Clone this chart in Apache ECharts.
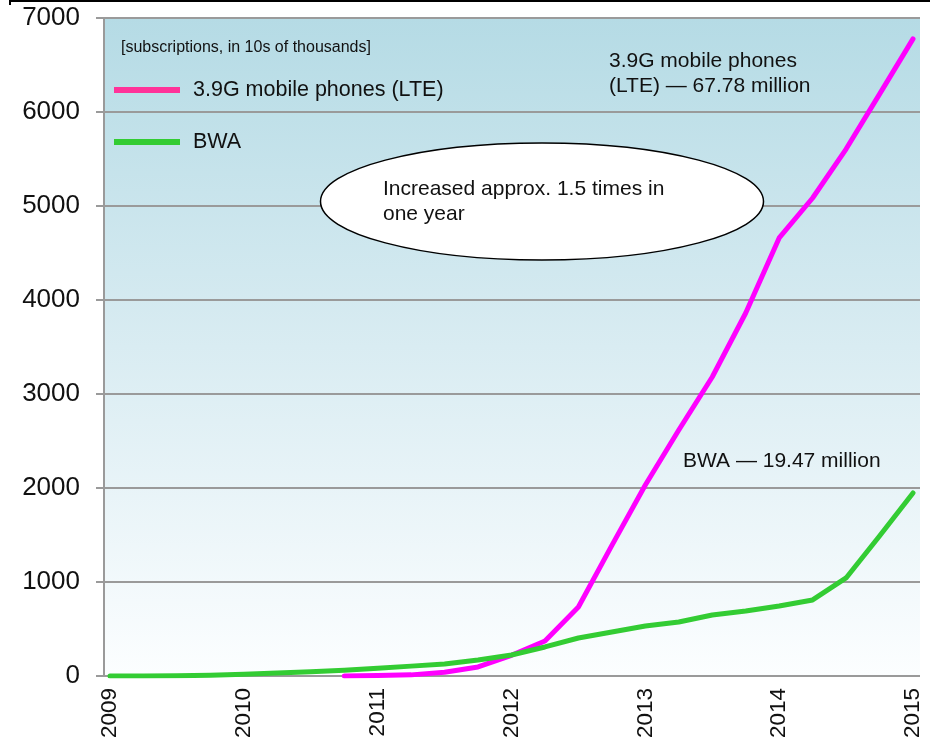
<!DOCTYPE html>
<html>
<head>
<meta charset="utf-8">
<title>3.9G (LTE) and BWA subscriptions</title>
<script src="https://cdn.jsdelivr.net/npm/echarts@6/dist/echarts.min.js"></script>
<style>
  html, body { margin: 0; padding: 0; background: #fff; }
  #chart { width: 930px; height: 737px; }
</style>
</head>
<body>
<div id="chart"></div>
<script>
// Quarterly points, one label per year
const quarters = [
  '2009 Q1', '2009 Q2', '2009 Q3', '2009 Q4',
  '2010 Q1', '2010 Q2', '2010 Q3', '2010 Q4',
  '2011 Q1', '2011 Q2', '2011 Q3', '2011 Q4',
  '2012 Q1', '2012 Q2', '2012 Q3', '2012 Q4',
  '2013 Q1', '2013 Q2', '2013 Q3', '2013 Q4',
  '2014 Q1', '2014 Q2', '2014 Q3', '2014 Q4',
  '2015 Q1'
];
const yearLabels = ['2009', '2010', '2011', '2012', '2013', '2014', '2015'];

// Subscriptions, in 10s of thousands
const lteValues = [
  null, null, null, null, null, null, null, 0,
  4, 12, 40, 96, 220, 372, 734, 1390,
  2032, 2617, 3181, 3862, 4660, 5085, 5606, 6190,
  6778
];
const bwaValues = [
  0, 0, 2, 8, 18, 32, 45, 60,
  82, 105, 128, 170, 223, 309, 404, 468,
  532, 574, 649, 691, 745, 809, 1043, 1490,
  1947
];
const yTicks = [0, 1000, 2000, 3000, 4000, 5000, 6000, 7000];

const lteName = '3.9G mobile phones (LTE)';
const bwaName = 'BWA';
const FONT = '"Liberation Sans", Arial, Helvetica, sans-serif';

const lteLast = lteValues[lteValues.length - 1];
const bwaLast = bwaValues[bwaValues.length - 1];
const millions = v => (v / 100).toFixed(2) + ' million';

const chart = echarts.init(document.getElementById('chart'), null, { renderer: 'canvas' });

const gridTop = 18, gridBottom = 61;

chart.setOption({
  animation: false,
  backgroundColor: '#ffffff',
  textStyle: { fontFamily: FONT },
  title: {
    text: '[subscriptions, in 10s of thousands]',
    left: 121, top: 40, padding: 0,
    textStyle: { fontSize: 16, fontWeight: 'normal', color: '#111', fontFamily: FONT }
  },
  legend: {
    orient: 'vertical',
    left: 114, top: 79, padding: 0,
    itemWidth: 66, itemHeight: 6, itemGap: 30,
    icon: 'rect',
    selectedMode: false,
    textStyle: { fontSize: 21.5, color: '#111', fontFamily: FONT, lineHeight: 21, padding: [0, 0, 0, 8] },
    data: [
      { name: lteName, itemStyle: { color: '#ff3399' } },
      { name: bwaName, itemStyle: { color: '#33cc33' } }
    ]
  },
  grid: [
    {
      // frame: shaded background, value scale and gridlines
      left: 104, right: 10, top: gridTop, bottom: gridBottom,
      outerBoundsMode: 'none', containLabel: false,
      show: true, borderWidth: 0,
      backgroundColor: new echarts.graphic.LinearGradient(0, 0, 0, 1, [
        { offset: 0, color: '#b5dbe5' },
        { offset: 0.5, color: '#d9ecf2' },
        { offset: 1, color: '#fcfeff' }
      ])
    },
    {
      // plotting area for the quarterly series
      left: 110, right: 17, top: gridTop, bottom: gridBottom,
      outerBoundsMode: 'none', containLabel: false
    }
  ],
  xAxis: [
    { type: 'value', gridIndex: 0, show: false, min: 0, max: 1 },
    {
      type: 'category', gridIndex: 1, data: quarters, boundaryGap: false,
      axisLine: { show: false }, axisTick: { show: false }, splitLine: { show: false },
      axisLabel: {
        interval: 3, rotate: 90, margin: 12,
        fontSize: 22.5, color: '#111', fontFamily: FONT,
        formatter: (v, i) => yearLabels[i / 4] || ''
      }
    }
  ],
  yAxis: [
    {
      type: 'value', gridIndex: 0,
      min: yTicks[0], max: yTicks[yTicks.length - 1], interval: 1000,
      axisLine: { show: true, lineStyle: { color: '#9a9a9a', width: 2 } },
      axisTick: { show: true, length: 8, lineStyle: { color: '#9a9a9a', width: 2 } },
      splitLine: { show: true, lineStyle: { color: '#9a9a9a', width: 2 } },
      axisLabel: { margin: 24, fontSize: 26, color: '#111', fontFamily: FONT, formatter: v => String(v) }
    },
    {
      type: 'value', gridIndex: 1, show: false,
      min: yTicks[0], max: yTicks[yTicks.length - 1],
      splitLine: { show: false }
    }
  ],
  series: [
    {
      name: lteName, type: 'line', xAxisIndex: 1, yAxisIndex: 1,
      data: lteValues, showSymbol: false, symbol: 'none', z: 3,
      lineStyle: { color: '#ff00ff', width: 5, cap: 'round', join: 'round' },
      itemStyle: { color: '#ff00ff' }
    },
    {
      name: bwaName, type: 'line', xAxisIndex: 1, yAxisIndex: 1,
      data: bwaValues, showSymbol: false, symbol: 'none', z: 4,
      lineStyle: { color: '#33cc33', width: 5, cap: 'round', join: 'round' },
      itemStyle: { color: '#33cc33' }
    }
  ],
  graphic: [
    // frame edge along the top
    {
      type: 'polyline', z: 100,
      shape: { points: [[10, 5], [10, 1], [930, 1]] },
      style: { stroke: '#000', lineWidth: 2, fill: null }
    },
    // callout bubble
    {
      type: 'ellipse', z: 100,
      shape: { cx: 542, cy: 201.5, rx: 221.5, ry: 58.5 },
      style: { fill: '#ffffff', stroke: '#000', lineWidth: 1.5 }
    },
    {
      type: 'text', z: 101, x: 383, y: 177,
      style: {
        text: 'Increased approx. 1.5 times in\none year',
        font: '21px ' + FONT, fill: '#111', lineHeight: 25, verticalAlign: 'top'
      }
    },
    {
      type: 'text', z: 101, x: 609, y: 48.5,
      style: {
        text: '3.9G mobile phones\n(LTE) \u2014 ' + millions(lteLast),
        font: '21px ' + FONT, fill: '#111', lineHeight: 25, verticalAlign: 'top'
      }
    },
    {
      type: 'text', z: 101, x: 683, y: 461,
      style: {
        text: 'BWA \u2014 ' + millions(bwaLast),
        font: '21px ' + FONT, fill: '#111', verticalAlign: 'middle'
      }
    }
  ]
});
</script>
</body>
</html>
